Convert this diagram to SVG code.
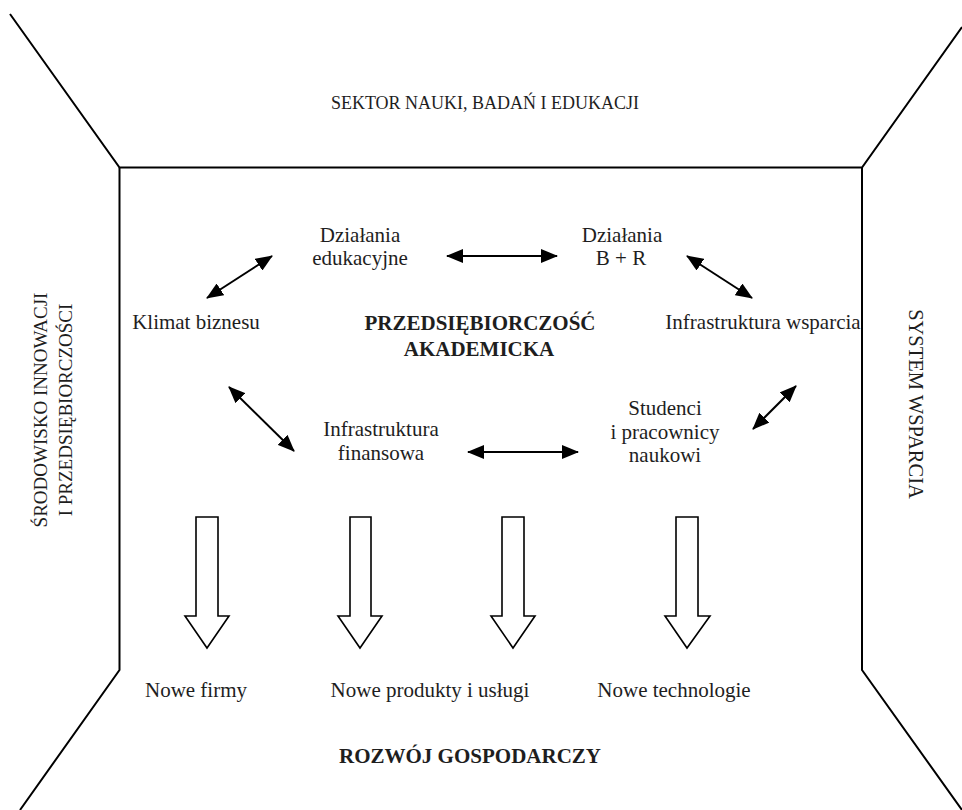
<svg xmlns="http://www.w3.org/2000/svg" width="962" height="810" viewBox="0 0 962 810">
<style>
.frame{fill:none;stroke:#000;stroke-width:2}
.t{font-family:"Liberation Serif","Times New Roman",serif;font-size:21px;fill:#1e1e1e;text-anchor:middle}
.caps{font-size:18px}
.b{font-weight:bold;font-size:21px}
.side{font-family:"Liberation Serif","Times New Roman",serif;font-size:19px;fill:#1e1e1e;text-anchor:middle}
.side2{font-size:20.5px}
.conn{fill:none;stroke:#000;stroke-width:2}
.block{fill:#fff;stroke:#000;stroke-width:1.6;stroke-linejoin:miter}
</style>
<defs>
<marker id="ah" markerUnits="userSpaceOnUse" viewBox="0 0 17 14" markerWidth="17" markerHeight="14" refX="16" refY="7" orient="auto-start-reverse">
<path d="M0,0 L17,7 L0,14 Z" fill="#000"/>
</marker>
</defs>
<rect width="962" height="810" fill="#fff"/>
<g id="frame">
<path class="frame" d="M10,14 L119.5,167.5 L862,167.5 L962,27"/>
<path class="frame" d="M119.5,167.5 L119.5,670 L20,810"/>
<path class="frame" d="M862,167.5 L862,670 L962,810"/>
</g>
<g id="sektor"><text class="t caps" x="485" y="109">SEKTOR NAUKI, BADAŃ I EDUKACJI</text></g>
<g id="srodowisko">
<text class="side" transform="translate(47,410) rotate(-90)">ŚRODOWISKO INNOWACJI</text>
<text class="side" transform="translate(72,410) rotate(-90)">I PRZEDSIĘBIORCZOŚCI</text>
</g>
<g id="system"><text class="side side2" transform="translate(909,404) rotate(90)">SYSTEM WSPARCIA</text></g>
<g id="dzialania-edu"><text class="t" x="360" y="242">Działania</text><text class="t" x="360" y="265">edukacyjne</text></g>
<g id="dzialania-br"><text class="t" x="622" y="242">Działania</text><text class="t" x="621" y="265">B + R</text></g>
<g id="klimat"><text class="t" x="196" y="329">Klimat biznesu</text></g>
<g id="infra-wsparcia"><text class="t" x="763" y="329">Infrastruktura wsparcia</text></g>
<g id="przedsiebiorczosc"><text class="t b" x="480" y="330">PRZEDSIĘBIORCZOŚĆ</text><text class="t b" x="479" y="356">AKADEMICKA</text></g>
<g id="infra-fin"><text class="t" x="381" y="436">Infrastruktura</text><text class="t" x="381" y="460">finansowa</text></g>
<g id="studenci"><text class="t" x="665" y="415">Studenci</text><text class="t" x="665" y="439">i pracownicy</text><text class="t" x="665" y="462">naukowi</text></g>
<g id="connectors">
<line class="conn" x1="447" y1="256" x2="557" y2="256" marker-start="url(#ah)" marker-end="url(#ah)"/>
<line class="conn" x1="207" y1="298" x2="272" y2="256" marker-start="url(#ah)" marker-end="url(#ah)"/>
<line class="conn" x1="687" y1="256" x2="752" y2="298" marker-start="url(#ah)" marker-end="url(#ah)"/>
<line class="conn" x1="229" y1="387" x2="294" y2="451" marker-start="url(#ah)" marker-end="url(#ah)"/>
<line class="conn" x1="468" y1="452" x2="578" y2="452" marker-start="url(#ah)" marker-end="url(#ah)"/>
<line class="conn" x1="753" y1="429" x2="796" y2="386" marker-start="url(#ah)" marker-end="url(#ah)"/>
</g>
<g id="block-arrows">
<path class="block" d="M196,517 H218 V616 H229 L207,648 L185,616 H196 Z"/>
<path class="block" d="M350,517 H371 V616 H382 L360,648 L338,616 H350 Z"/>
<path class="block" d="M502,517 H524 V616 H535 L513,648 L491,616 H502 Z"/>
<path class="block" d="M676,517 H698 V616 H710 L687,648 L665,616 H676 Z"/>
</g>
<g id="nowe-firmy"><text class="t" x="196" y="697">Nowe firmy</text></g>
<g id="nowe-produkty"><text class="t" x="430" y="697">Nowe produkty i usługi</text></g>
<g id="nowe-tech"><text class="t" x="674" y="697">Nowe technologie</text></g>
<g id="rozwoj"><text class="t b" x="470" y="763">ROZWÓJ GOSPODARCZY</text></g>
</svg>
